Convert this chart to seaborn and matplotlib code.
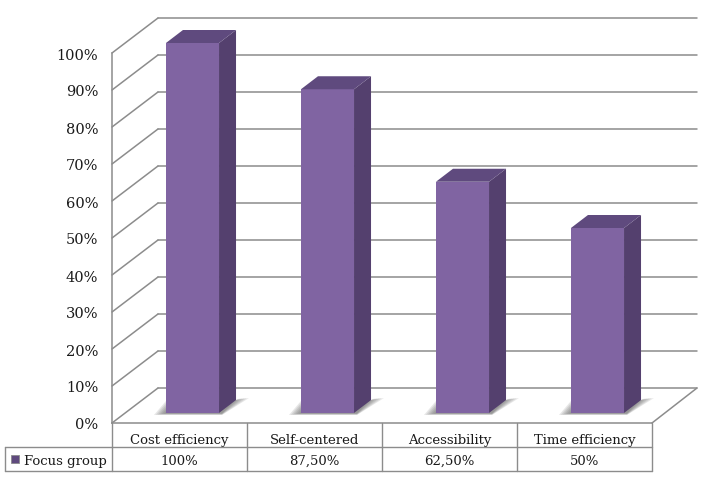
import matplotlib
matplotlib.use("Agg")
import matplotlib.pyplot as plt
from matplotlib.patches import Polygon, Rectangle
import seaborn as sns

# chart data
categories = ["Cost efficiency", "Self-centered", "Accessibility", "Time efficiency"]
values = [100, 87.5, 62.5, 50]
value_labels = ["100%", "87,50%", "62,50%", "50%"]
series_name = "Focus group"
y_ticks = [0, 10, 20, 30, 40, 50, 60, 70, 80, 90, 100]

GREY = "#8c8c8c"
TEXT = "#1a1a1a"
FRONT = "#8064a2"
SIDE = "#54406e"
TOP = "#5f4a7e"

sns.set_theme(style="white")
plt.rcParams["font.family"] = ["DejaVu Serif"]

fig = plt.figure(figsize=(7.02, 4.89), dpi=100, facecolor="white")
ax = fig.add_axes([112 / 702, (489 - 424) / 489, 540 / 702, 370 / 489])

sns.barplot(x=categories, y=values, color=FRONT, saturation=1, width=0.393,
            linewidth=0, edgecolor="none", ax=ax, zorder=5)
ax.set_xlim(-0.5, 3.5)
ax.set_ylim(0, 100)

# one pixel in data units
px = 1 / 135
py = 100 / 370

# walls: gridlines run along the back and down the left side
wall_dx = 46 * px
wall_dy = 35 * py
right = 3.5 + 45 * px
for t in y_ticks:
    ax.plot([-0.5, -0.5 + wall_dx], [t, t + wall_dy], color=GREY, lw=1.1, clip_on=False, zorder=1)
    ax.plot([-0.5 + wall_dx, right], [t + wall_dy, t + wall_dy], color=GREY, lw=1.1, clip_on=False, zorder=1)
ax.plot([3.5, right], [0, wall_dy], color=GREY, lw=1.1, clip_on=False, zorder=1)

# bars sit part way back on the floor, then get top and side faces
depth_x = 17 * px
depth_y = 13 * py
for bar in ax.patches[:len(values)]:
    bar.set_x(bar.get_x() + 13 * px)
    bar.set_y(10 * py)
    bar.set_clip_on(False)
    x0 = bar.get_x()
    x1 = x0 + bar.get_width()
    y0 = bar.get_y()
    y1 = y0 + bar.get_height()
    ax.add_patch(Polygon([(x1, y0), (x1 + depth_x, y0 + depth_y), (x1 + depth_x, y1 + depth_y), (x1, y1)],
                         facecolor=SIDE, edgecolor="none", clip_on=False, zorder=5))
    ax.add_patch(Polygon([(x0, y1), (x0 + depth_x, y1 + depth_y), (x1 + depth_x, y1 + depth_y), (x1, y1)],
                         facecolor=TOP, edgecolor="none", clip_on=False, zorder=5))
    # soft floor shadow, layered so it fades out
    for i in range(6):
        grow = (5 - i) * 2
        ax.add_patch(Polygon([(x0, y0 + (2 + grow) * py),
                              (x0 - (2 + grow) * px, y0 - (0.5 + grow * 0.15) * py),
                              (x1 + 3 * px, y0 - (0.5 + grow * 0.15) * py),
                              (x1 + depth_x + (2 + grow * 1.1) * px, y0 + (depth_y / py + 2) * py),
                              (x1 + depth_x, y0 + depth_y)],
                             facecolor="#555555", alpha=0.14, edgecolor="none", clip_on=False, zorder=3))

# axes
sns.despine(ax=ax, top=True, right=True, left=False, bottom=False)
ax.spines["left"].set_color(GREY)
ax.spines["left"].set_linewidth(1.1)
ax.spines["bottom"].set_color(GREY)
ax.spines["bottom"].set_linewidth(1.1)
ax.set_yticks(y_ticks)
ax.set_yticklabels([f"{t}%" for t in y_ticks], fontsize=10.5, color=TEXT)
ax.tick_params(axis="y", length=0, pad=10)
ax.set_xticks(range(len(categories)))
ax.set_xticklabels(categories, fontsize=9.5, color=TEXT)
ax.tick_params(axis="x", length=0, pad=7)

# data table below the plot
row1 = -24 * py
row2 = -48 * py
table_left = -0.5 - 107 * px
ax.plot([table_left, 3.5], [row1, row1], color=GREY, lw=1, clip_on=False)
ax.plot([table_left, 3.5], [row2, row2], color=GREY, lw=1, clip_on=False)
ax.plot([table_left, table_left], [row1, row2], color=GREY, lw=1, clip_on=False)
for i in range(len(categories) + 1):
    ax.plot([i - 0.5, i - 0.5], [0, row2], color=GREY, lw=1, clip_on=False)
for i, label in enumerate(value_labels):
    ax.text(i, (row1 + row2) / 2 - 0.3, label, ha="center", va="center", fontsize=9.5, color=TEXT, clip_on=False)

# legend key and series name
ax.add_patch(Rectangle((table_left + 6 * px, row1 - 16 * py), 8 * px, 8 * py,
                       facecolor=TOP, edgecolor=GREY, lw=0.6, clip_on=False))
ax.text(table_left + 19 * px, (row1 + row2) / 2 - 0.3, series_name, ha="left", va="center",
        fontsize=9.5, color=TEXT, clip_on=False)

fig.savefig("out.png", dpi=100, facecolor="white")
